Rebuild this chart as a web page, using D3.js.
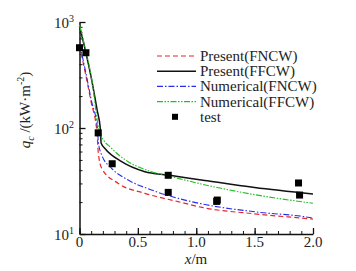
<!DOCTYPE html>
<html>
<head>
<meta charset="utf-8">
<script src="https://cdn.jsdelivr.net/npm/d3@7"></script>
<style>
  body { margin: 0; background: #fff; }
</style>
</head>
<body>
<svg id="mysvg" width="356" height="271" font-family="'Liberation Serif', 'DejaVu Serif', serif"></svg>
<script>
// series (x in m, q in kW/m2)
var presentFNCW = [[0,600],[0.05,330],[0.1,175],[0.15,90],[0.16,60],[0.19,41.7],[0.332,30],[0.56,24.2],[0.844,20.2],[1.05,17.8],[1.5,15.5],[1.97,13.9],[2.0,13.8]];
var presentFFCW = [[0,917],[0.05,540],[0.1,300],[0.15,150],[0.18,95],[0.185,72],[0.218,64],[0.361,48.1],[0.56,38.7],[0.759,36],[1.073,32],[1.5,27.4],[2.0,23.8]];
var numFNCW = [[0,620],[0.05,350],[0.1,185],[0.155,96],[0.161,74],[0.19,55.6],[0.275,41.7],[0.417,32.3],[0.617,26],[0.844,21.7],[1.05,19.2],[1.5,16.2],[1.97,14.3],[2.0,14.1]];
var numFFCW = [[0,937],[0.05,560],[0.1,310],[0.175,89],[0.275,64.3],[0.417,48.1],[0.617,38.7],[0.788,34.7],[1.05,29.5],[1.5,23.5],[2.0,19.5]];
var testX = [0, 0.055, 0.16, 0.28, 0.76, 0.76, 1.18, 1.175, 1.876, 1.885];
var testQ = [572, 513, 90, 46, 35.8, 24.7, 20.9, 20.3, 30.3, 23.3];

var legendLabels = ["Present(FNCW)", "Present(FFCW)", "Numerical(FNCW)", "Numerical(FFCW)", "test"];
var xTicks = [0, 0.5, 1.0, 1.5, 2.0];
var yTicks = [10, 100, 1000];

var svg = d3.select("#mysvg");

var x = d3.scaleLinear().domain([0, 2]).range([79.5, 313]);
var y = d3.scaleLog().domain([10, 1000]).range([234, 22]);

var line = d3.line()
    .x(function(d){ return x(d[0]); })
    .y(function(d){ return y(d[1]); })
    .curve(d3.curveMonotoneX);

var styles = [
    {stroke: "#e8262b", dash: "5,3", w: 1.2},
    {stroke: "#111", dash: null, w: 1.5},
    {stroke: "#2b2bef", dash: "6,2,1.5,2", w: 1.1},
    {stroke: "#1fc21f", dash: "6,1.5,1.5,1.5,1.5,1.5", w: 1.1}
];
var series = [presentFNCW, presentFFCW, numFNCW, numFFCW];

// minor ticks
var minorY = [];
[10, 100].forEach(function(b){ for (var k = 2; k <= 9; k++) minorY.push(b * k); });
svg.append("g")
    .attr("transform", "translate(" + x(0) + ",0)")
    .call(d3.axisLeft(y).tickValues(minorY).tickSize(-3).tickFormat(""))
    .call(function(g){ g.select(".domain").remove(); g.selectAll("line").attr("stroke", "#111"); });

var minorX = d3.range(0, 21).map(function(i){ return i / 10; });
svg.append("g")
    .attr("transform", "translate(0," + y(10) + ")")
    .call(d3.axisBottom(x).tickValues(minorX).tickSize(-3).tickFormat(""))
    .call(function(g){ g.select(".domain").remove(); g.selectAll("line").attr("stroke", "#111"); });

// main axes
var yAxis = svg.append("g")
    .attr("transform", "translate(" + x(0) + ",0)")
    .call(d3.axisLeft(y).tickValues(yTicks).tickSize(-6).tickSizeOuter(0).tickFormat(""));
yAxis.selectAll("line").attr("stroke", "#111").attr("stroke-width", 1.3);
yAxis.select(".domain").attr("stroke", "#111").attr("stroke-width", 1.5);

var xAxis = svg.append("g")
    .attr("transform", "translate(0," + y(10) + ")")
    .call(d3.axisBottom(x).tickValues(xTicks).tickSize(-6).tickSizeOuter(0).tickFormat(""));
xAxis.selectAll("line").attr("stroke", "#111").attr("stroke-width", 1.3);
xAxis.select(".domain").attr("stroke", "#111").attr("stroke-width", 1.5);

// tick labels
svg.selectAll(".ylab").data(yTicks).enter().append("text")
    .attr("x", 54)
    .attr("y", function(d){ return y(d) + 6; })
    .attr("fill", "#222")
    .style("font-size", "15px")
    .each(function(d){
        var t = d3.select(this);
        t.append("tspan").text("10");
        t.append("tspan").attr("dy", -6).style("font-size", "10px").text(Math.round(Math.log10(d)));
    });

svg.selectAll(".xlab").data(xTicks).enter().append("text")
    .attr("x", function(d){ return x(d); })
    .attr("y", 247)
    .attr("text-anchor", "middle")
    .attr("fill", "#222")
    .style("font-size", "15px")
    .text(function(d){ return d === 0 ? "0" : d.toFixed(1); });

// axis titles
svg.append("text")
    .attr("x", 196).attr("y", 264)
    .attr("text-anchor", "middle")
    .attr("fill", "#222")
    .style("font-size", "15px")
    .call(function(t){
        t.append("tspan").style("font-style", "italic").text("x");
        t.append("tspan").text("/m");
    });

svg.append("text")
    .attr("transform", "translate(30,110) rotate(-90)")
    .attr("text-anchor", "middle")
    .attr("fill", "#222")
    .style("font-size", "15px")
    .call(function(t){
        t.append("tspan").style("font-style", "italic").text("q");
        t.append("tspan").attr("dy", 4).style("font-size", "10px").style("font-style", "italic").text("c");
        t.append("tspan").attr("dy", -4).text(" /(kW·m");
        t.append("tspan").attr("dy", -6).style("font-size", "10px").text("-2");
        t.append("tspan").attr("dy", 6).text(")");
    });

// lines
series.forEach(function(s, i){
    svg.append("path")
        .attr("d", line(s))
        .attr("fill", "none")
        .attr("stroke", styles[i].stroke)
        .attr("stroke-width", styles[i].w)
        .attr("stroke-dasharray", styles[i].dash);
});

// test points
var testPts = testX.map(function(v, i){ return [v, testQ[i]]; });
svg.selectAll(".pt").data(testPts).enter().append("rect")
    .attr("x", function(d){ return x(d[0]) - 3.5; })
    .attr("y", function(d){ return y(d[1]) - 3.5; })
    .attr("width", 7).attr("height", 7)
    .attr("fill", "#000");

// legend
var lg = svg.append("g");
legendLabels.forEach(function(lbl, i){
    var ly = 56 + i * 15.2;
    if (i < 4) {
        lg.append("line")
            .attr("x1", 157).attr("x2", 196)
            .attr("y1", ly).attr("y2", ly)
            .attr("stroke", styles[i].stroke)
            .attr("stroke-width", styles[i].w)
            .attr("stroke-dasharray", styles[i].dash);
    } else {
        lg.append("rect").attr("x", 172).attr("y", ly - 3).attr("width", 6).attr("height", 6).attr("fill", "#000");
    }
    lg.append("text")
        .attr("x", 200).attr("y", ly + 5)
        .attr("fill", "#222")
        .style("font-size", "15px")
        .text(lbl);
});
</script>
</body>
</html>
